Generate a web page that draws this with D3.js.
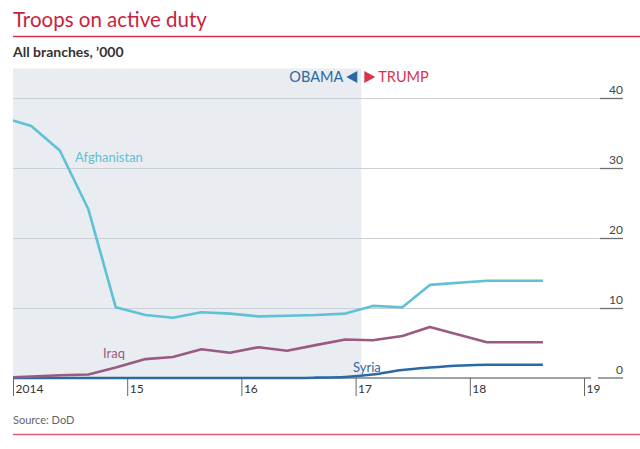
<!DOCTYPE html>
<html><head><meta charset="utf-8">
<script src="https://cdn.jsdelivr.net/npm/d3@7"></script>
<style>body{margin:0;background:#fff}svg{display:block;font-family:Lato,"Open Sans",sans-serif}</style>
</head><body><svg id="c" width="640" height="449"></svg>
<script>
// Data (decimal years)
const yearsAfgIraq = [2014.0,2014.16,2014.41,2014.66,2014.90,2015.16,2015.40,2015.65,2015.90,2016.15,2016.40,2016.65,2016.91,2017.15,2017.41,2017.65,2018.15,2018.64];
const afghanistan  = [36.8,36.0,32.5,24.1,10.1,9.0,8.6,9.4,9.2,8.8,8.9,9.0,9.2,10.3,10.1,13.3,13.9,13.9];
const iraq         = [0.1,0.2,0.4,0.5,1.5,2.7,3.0,4.1,3.6,4.4,3.9,4.7,5.5,5.4,6.0,7.3,5.1,5.1];
const syria        = [0,0,0,0,0,0,0,0,0,0,0,0.05,0.15,0.5,1.15,1.5,1.9,1.9];
const yTicks = [0,10,20,30,40];
const xTicks = [2014,2015,2016,2017,2018,2019];
const xTickLabels = ["2014","15","16","17","18","19"];
const inauguration = 2017.05;

const svg = d3.select("#c");
const x = d3.scaleLinear().domain([2014,2019]).range([13,584]);
const y = d3.scaleLinear().domain([0,40]).range([378,98]);

// Title
svg.append("text").attr("x",13).attr("y",27).attr("font-size",20.5).attr("fill","#c9223f").text("Troops on active duty");
svg.append("line").attr("x1",13).attr("x2",640).attr("y1",36.5).attr("y2",36.5).attr("stroke","#d6304c").attr("stroke-width",1.5);
svg.append("text").attr("x",13).attr("y",57).attr("font-size",14).attr("font-weight","bold").attr("fill","#333").text("All branches, ’000");

// Obama shading
svg.append("rect").attr("x",x(2014)).attr("y",68.5).attr("width",x(inauguration)-x(2014)).attr("height",y(0)-68.5).attr("fill","#e9edf1");

// Gridlines
const g = svg.append("g");
yTicks.filter(d=>d>0).forEach(d=>{
  g.append("line").attr("x1",13).attr("x2",600).attr("y1",y(d)+0.5).attr("y2",y(d)+0.5).attr("stroke","#c9cfd5").attr("stroke-width",1);
  g.append("line").attr("x1",600).attr("x2",623).attr("y1",y(d)+0.5).attr("y2",y(d)+0.5).attr("stroke","#6b7075").attr("stroke-width",1.3);
});
yTicks.forEach(d=>{
  g.append("text").attr("x",623).attr("y",y(d)-4).attr("text-anchor","end").attr("font-size",12).attr("fill","#444").text(d);
});
// baseline
g.append("line").attr("x1",13).attr("x2",591).attr("y1",y(0)).attr("y2",y(0)).attr("stroke","#9aa2aa").attr("stroke-width",2);
g.append("line").attr("x1",598).attr("x2",623).attr("y1",y(0)).attr("y2",y(0)).attr("stroke","#9aa2aa").attr("stroke-width",2);

// x ticks
xTicks.forEach((d,i)=>{
  g.append("line").attr("x1",x(d)+0.5).attr("x2",x(d)+0.5).attr("y1",y(0)).attr("y2",396).attr("stroke","#666").attr("stroke-width",1);
  g.append("text").attr("x",x(d)+2.5).attr("y",393).attr("font-size",12).attr("fill","#333").text(xTickLabels[i]);
});

// Lines
const line = d3.line().x((d,i)=>x(yearsAfgIraq[i])).y(d=>y(d));
const lineSmooth = d3.line().x((d,i)=>x(yearsAfgIraq[i])).y(d=>y(d)).curve(d3.curveMonotoneX);
svg.append("path").attr("d",lineSmooth(syria)).attr("fill","none").attr("stroke","#2b69a3").attr("stroke-width",2.6);
svg.append("path").attr("d",line(iraq)).attr("fill","none").attr("stroke","#9a5a83").attr("stroke-width",2.6).attr("stroke-linejoin","round");
svg.append("path").attr("d",line(afghanistan)).attr("fill","none").attr("stroke","#5ec1d5").attr("stroke-width",2.6).attr("stroke-linejoin","round");

// Labels
svg.append("text").attr("x",75).attr("y",162).attr("font-size",13).attr("fill","#5ec1d5").text("Afghanistan");
svg.append("text").attr("x",103).attr("y",358).attr("font-size",13).attr("fill","#9a5a83").text("Iraq");
svg.append("text").attr("x",353).attr("y",372).attr("font-size",13).attr("fill","#2b69a3").text("Syria");

// Obama / Trump
const xi = x(inauguration);
svg.append("text").attr("x",xi-18).attr("y",82).attr("text-anchor","end").attr("font-size",14.5).attr("fill","#2b69a3").text("OBAMA");
svg.append("path").attr("d",`M${xi-4},71 L${xi-4},83 L${xi-15},77 Z`).attr("fill","#2b69a3");
svg.append("path").attr("d",`M${xi+3},71 L${xi+3},83 L${xi+14},77 Z`).attr("fill","#d8334f");
svg.append("text").attr("x",xi+17).attr("y",82).attr("font-size",14.5).attr("fill","#d8334f").text("TRUMP");

// Source
svg.append("text").attr("x",13).attr("y",424).attr("font-size",11).attr("fill","#666").text("Source: DoD");
svg.append("line").attr("x1",13).attr("x2",640).attr("y1",434.5).attr("y2",434.5).attr("stroke","#e05a70").attr("stroke-width",1.3);
</script></body></html>
